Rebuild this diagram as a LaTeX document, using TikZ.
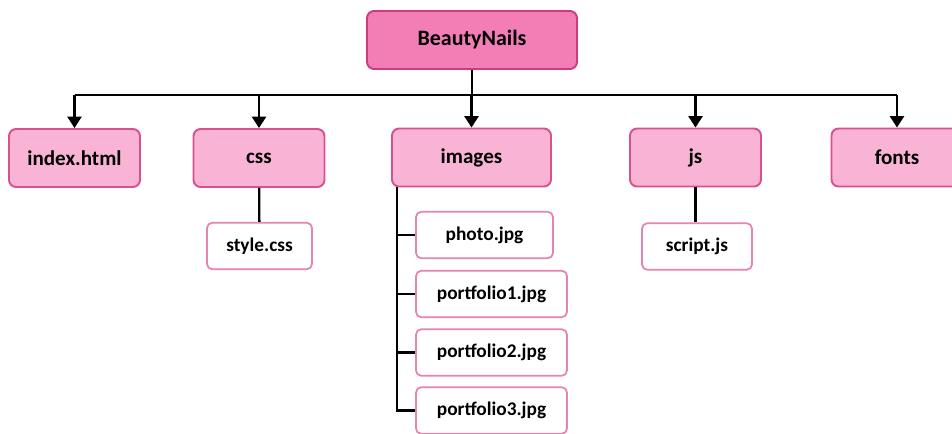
\documentclass[tikz,border=0pt]{standalone}
\usepackage{fontspec}
\setmainfont{Carlito}
\usetikzlibrary{arrows.meta}

\definecolor{rootfill}{RGB}{243,126,182}
\definecolor{rootline}{RGB}{208,58,124}
\definecolor{dirfill}{RGB}{249,180,213}
\definecolor{dirline}{RGB}{218,80,140}
\definecolor{fileline}{RGB}{230,132,176}

\begin{document}
\begin{tikzpicture}[x=0.02cm, y=-0.02cm]
% Definição de estilos
\tikzset{
  rootbox/.style={rectangle, rounded corners=4pt, draw=rootline, line width=1.1pt, fill=rootfill, minimum width=4.2cm, minimum height=1.16cm, font=\fontsize{12.5}{14}\selectfont\bfseries},
  dirbox/.style={rectangle, rounded corners=4pt, draw=dirline, line width=1.1pt, fill=dirfill, minimum width=2.62cm, minimum height=1.16cm, font=\fontsize{12}{14}\selectfont\bfseries},
  filebox/.style={rectangle, rounded corners=3pt, draw=fileline, line width=1pt, fill=white, minimum height=0.93cm, font=\fontsize{11}{13}\selectfont\bfseries},
  link/.style={draw=black, line width=1.3pt},
  arrow/.style={link, -{Triangle[length=6.5pt,width=8pt]}}
}
\useasboundingbox (0,0) rectangle (952,433);

% Raiz
\node[rootbox] (root) at (472,40) {BeautyNails};

% Pastas e arquivos do primeiro nivel
\node[dirbox] (index) at (74.5,158) {index.html};
\node[dirbox] (css) at (259,158) {css};
\node[dirbox, minimum width=3.18cm] (images) at (471.5,157.5) {images};
\node[dirbox] (js) at (695.5,157.5) {js};
\node[dirbox] (fonts) at (897,157.5) {fonts};

% Arquivos
\node[filebox, minimum width=2.1cm] (stylecss) at (259.5,246) {style.css};
\node[filebox, minimum width=2.2cm] (scriptjs) at (697,246.5) {script.js};
\node[filebox, minimum width=2.74cm] (photo) at (484.5,235) {photo.jpg};
\node[filebox, minimum width=3.02cm] (portfolio1) at (491.5,294) {portfolio1.jpg};
\node[filebox, minimum width=3.02cm] (portfolio2) at (491.5,352.5) {portfolio2.jpg};
\node[filebox, minimum width=3.02cm] (portfolio3) at (491.5,410.5) {portfolio3.jpg};

% Ligacoes
\coordinate (bus) at (0,95);
\coordinate (trunk) at (397,0);
\draw[link] (root.south) -- (root.south |- bus);
\draw[link] (index.north |- bus) -- (fonts.north |- bus);
\foreach \d in {index, css, images, js, fonts}
  \draw[arrow] (\d.north |- bus) -- (\d.north);
\draw[link] (css) -- (stylecss);
\draw[link] (js.south) -- (scriptjs.north -| js.south);
\draw[link] (images.south -| trunk) |- (portfolio3.west);
\foreach \f in {photo, portfolio1, portfolio2}
  \draw[link] (trunk |- \f.west) -- (\f.west);

\end{tikzpicture}
\end{document}
